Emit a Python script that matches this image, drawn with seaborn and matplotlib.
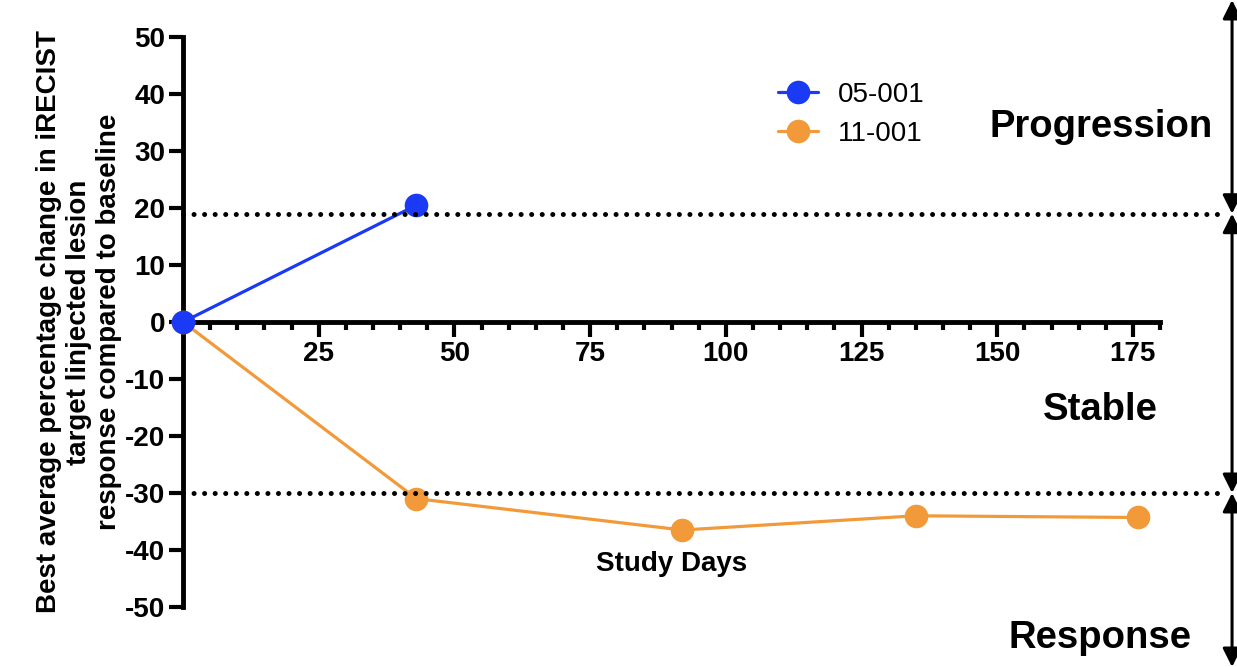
import numpy as np
import pandas as pd
import matplotlib
matplotlib.use("Agg")
import matplotlib.pyplot as plt
from matplotlib.ticker import FixedLocator
import seaborn as sns

# ---- data ----
patients = ["05-001", "11-001"]
days_05 = [0, 43]
change_05 = [0, 20.5]
days_11 = [0, 43, 92, 135, 176]
change_11 = [0, -31.0, -36.5, -34.0, -34.3]
thresholds = [19, -30]
zone_labels = ["Progression", "Stable", "Response"]
x_ticks = [25, 50, 75, 100, 125, 150, 175]
y_ticks = [-50, -40, -30, -20, -10, 0, 10, 20, 30, 40, 50]
colors = {"05-001": "#1A3AF5", "11-001": "#F29A3A"}

df = pd.DataFrame({
    "day": days_05 + days_11,
    "change": change_05 + change_11,
    "patient": [patients[0]] * len(days_05) + [patients[1]] * len(days_11),
})

sns.set_style("white")
plt.rcParams["font.family"] = ["Liberation Sans", "DejaVu Sans"]
plt.rcParams["axes.unicode_minus"] = False
plt.rcParams["text.color"] = "black"
plt.rcParams["axes.labelcolor"] = "black"
plt.rcParams["xtick.color"] = "black"
plt.rcParams["ytick.color"] = "black"

fig = plt.figure(figsize=(12.37, 6.67), dpi=100)
ax = fig.add_axes([0.148, 0.09, 0.7898, 0.8545])

sns.lineplot(data=df, x="day", y="change", hue="patient", hue_order=patients,
             palette=colors, marker="o", markersize=17, markeredgewidth=0,
             linewidth=2.3, sort=False, legend=False, ax=ax)

lines = ax.get_lines()
for ln, lab in zip(lines, patients):
    ln.set_label(lab)
    ln.set_clip_on(False)
    ln.set_zorder(4 if lab == "05-001" else 3)

for t in thresholds:
    ax.axhline(t, xmin=0, xmax=1.066, color="black", linewidth=3.6,
               linestyle=(0, (0.01, 2.1)), dash_capstyle="round",
               clip_on=False, zorder=5)

ax.set_xlim(0, 180)
ax.set_ylim(-50, 50)

ax.spines["top"].set_visible(False)
ax.spines["right"].set_visible(False)
ax.spines["bottom"].set_position(("data", 0))
for s in ["left", "bottom"]:
    ax.spines[s].set_linewidth(3.5)
    ax.spines[s].set_color("black")

ax.set_xticks(x_ticks)
ax.xaxis.set_minor_locator(FixedLocator([v for v in range(5, 181, 5) if v % 25 != 0]))
ax.set_yticks(y_ticks)
ax.tick_params(axis="x", which="major", direction="out", length=11, width=3,
               labelsize=20, pad=3, colors="black", bottom=True)
ax.tick_params(axis="x", which="minor", direction="out", length=6, width=3,
               bottom=True, colors="black")
ax.tick_params(axis="y", which="major", direction="out", length=10, width=3,
               labelsize=20, pad=3, colors="black", left=True)
for lab in ax.get_xticklabels() + ax.get_yticklabels():
    lab.set_fontweight("bold")

ax.set_ylabel("Best average percentage change in iRECIST\ntarget linjected lesion\nresponse compared to baseline",
              fontsize=20, fontweight="bold", linespacing=1.2)
ax.yaxis.set_label_coords(-0.063, 0.5)
ax.set_xlabel("Study Days", fontsize=20, fontweight="bold")
ax.xaxis.set_label_coords(0.5, 0.075)
ax.xaxis.label.set_va("center")

ax.legend(handles=list(lines[:2]), labels=patients, loc="upper left",
          bbox_to_anchor=(0.629, 0.877), bbox_transform=fig.transFigure,
          frameon=False, fontsize=20, handlelength=1.45, handletextpad=0.7,
          borderaxespad=0, borderpad=0, labelspacing=0.45)

# right-side range arrows
xa = 0.996
arrow_kw = dict(arrowstyle="<|-|>", lw=2.2, color="black", mutation_scale=28,
                shrinkA=0, shrinkB=0)
ax.annotate("", xy=(xa, thresholds[0]), xycoords=("figure fraction", "data"),
            xytext=(xa, 1.0), textcoords="figure fraction", arrowprops=arrow_kw,
            annotation_clip=False)
ax.annotate("", xy=(xa, thresholds[1]), xycoords=("figure fraction", "data"),
            xytext=(xa, thresholds[0]), textcoords=("figure fraction", "data"),
            arrowprops=arrow_kw, annotation_clip=False)
ax.annotate("", xy=(xa, 0.0), xycoords="figure fraction",
            xytext=(xa, thresholds[1]), textcoords=("figure fraction", "data"),
            arrowprops=arrow_kw, annotation_clip=False)

fig.text(0.980, 0.8096, zone_labels[0], ha="right", va="center", fontsize=27.5, fontweight="bold")
fig.text(0.936, 0.385, zone_labels[1], ha="right", va="center", fontsize=27.5, fontweight="bold")
fig.text(0.9636, 0.0435, zone_labels[2], ha="right", va="center", fontsize=27.5, fontweight="bold")

fig.savefig("out.png", dpi=100)
